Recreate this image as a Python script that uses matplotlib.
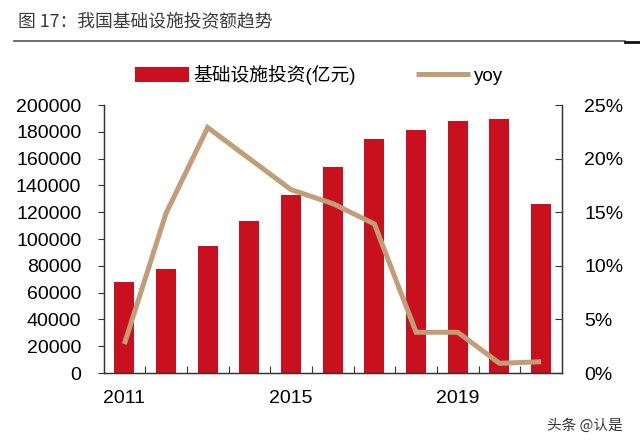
import matplotlib
matplotlib.use("Agg")
import matplotlib.pyplot as plt
from matplotlib.ticker import FuncFormatter, FixedLocator

plt.rcParams['font.family'] = ['Liberation Sans', 'Noto Sans CJK SC', 'DejaVu Sans']

years = [2011, 2012, 2013, 2014, 2015, 2016, 2017, 2018, 2019, 2020, 2021]
investment = [67700, 77600, 95000, 113700, 133100, 153700, 174600, 181300, 188000, 189500, 125900]
yoy = [2.7, 14.9, 22.9, 20.0, 17.1, 15.8, 13.9, 3.8, 3.8, 0.9, 1.05]
bar_label = "基础设施投资(亿元)"
line_label = "yoy"
title = "图 17：我国基础设施投资额趋势"
watermark = "头条 @认是"

BAR = '#C8101E'
LINE = '#C29E78'
AX = '#333333'

fig = plt.figure(figsize=(6.4, 4.47), dpi=100)
ax = fig.add_axes([103.5/640, 74/447, 458.5/640, 268/447])
ax2 = ax.twinx()

x = list(range(len(years)))
bars = ax.bar(x, investment, width=0.48, color=BAR, zorder=2, label=bar_label)
line, = ax2.plot(x, yoy, color=LINE, lw=3.6, solid_capstyle='butt', solid_joinstyle='miter', label=line_label, zorder=3)

ax.set_xlim(-0.5, len(years) - 0.5)
ax.set_ylim(0, 200000)
ax.set_yticks(range(0, 200001, 20000))
ax2.set_ylim(0, 25)
ax2.set_yticks(range(0, 26, 5))
ax2.yaxis.set_major_formatter(FuncFormatter(lambda v, p: f"{int(v)}%"))

ax.set_xticks([0, 4, 8])
ax.set_xticklabels([str(years[i]) for i in [0, 4, 8]])
ax.xaxis.set_minor_locator(FixedLocator([i + 0.5 for i in range(len(years) - 1)]))
ax.tick_params(axis='x', which='major', length=0, pad=12, labelsize=14, colors='black')
ax.tick_params(axis='x', which='minor', direction='in', length=5, width=0.8, color=AX)
ax.tick_params(axis='y', direction='out', length=4, width=0.8, color=AX, pad=12, labelsize=14)
ax2.tick_params(axis='y', direction='in', length=5, width=0.8, color=AX, pad=16, labelsize=14)

for a in (ax, ax2):
    a.spines['top'].set_visible(False)
    for s in ('left', 'right', 'bottom'):
        a.spines[s].set_color(AX)
        a.spines[s].set_linewidth(0.9)

fig.legend(handles=[bars, line], labels=[bar_label, line_label], loc='center',
           bbox_to_anchor=(319/640, 1 - 75/447), ncol=2, frameon=False,
           fontsize=13.5, handlelength=2.9, handleheight=0.8, handletextpad=0.2,
           columnspacing=3.2)

fig.text(18/640, 1 - 22/447, title, fontsize=12.8, color='#3a3a3a', va='center', ha='left',
         family=['Noto Sans CJK SC', 'DejaVu Sans'])
fig.add_artist(plt.Line2D([14/640, 625/640], [1 - 41/447, 1 - 41/447], color='#555555', lw=1.2))
fig.add_artist(plt.Line2D([625/640, 640/640], [1 - 42/447, 1 - 42/447], color='#111111', lw=2))

fig.text(585/640, 1 - 426/447, watermark, fontsize=10.5, color='#333333', ha='center', va='center',
         family=['Noto Sans CJK SC', 'DejaVu Sans'])

fig.savefig("out.png", dpi=100)
